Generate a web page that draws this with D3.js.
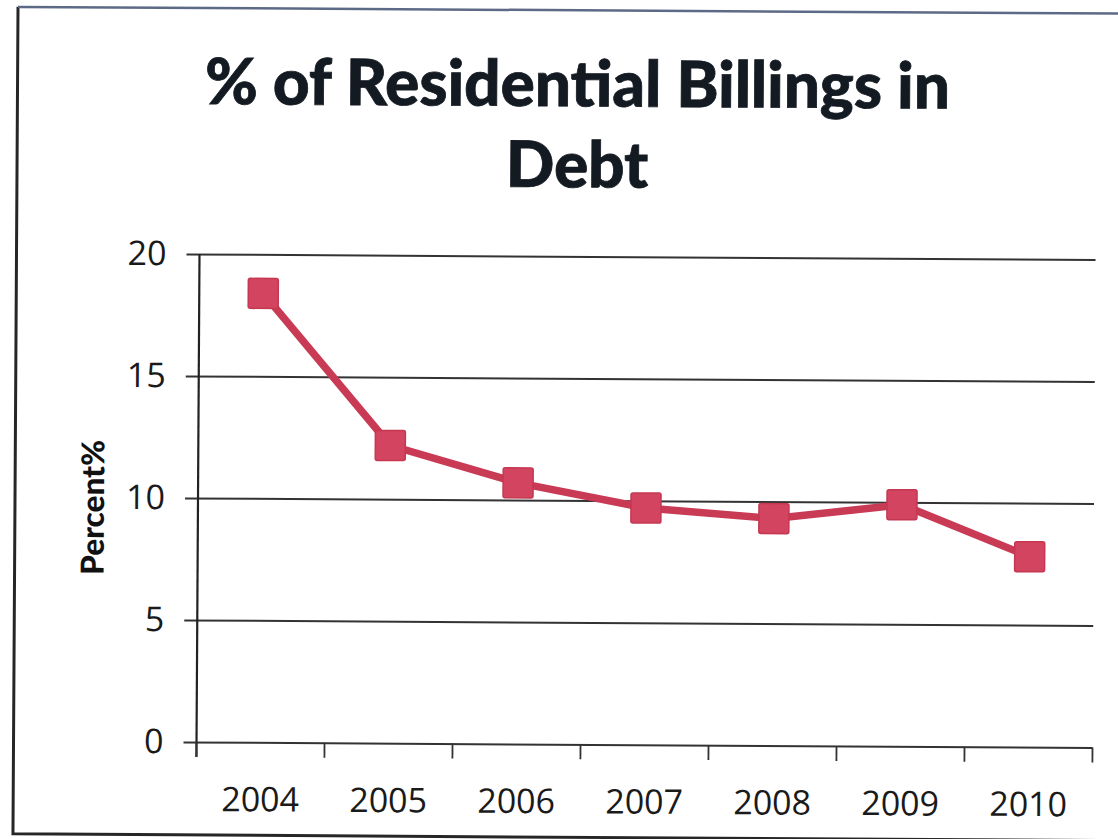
<!DOCTYPE html>
<html>
<head>
<meta charset="utf-8">
<script src="https://cdn.jsdelivr.net/npm/d3@7"></script>
<style>
  html, body { margin: 0; padding: 0; background: #fff; overflow: hidden; }
  svg { display: block; }
</style>
</head>
<body>
<svg id="chart" width="1118" height="839"></svg>
<script>
// Share of residential billings in debt, by year
const years = ["2004", "2005", "2006", "2007", "2008", "2009", "2010"];
const percentInDebt = [18.4, 12.2, 10.7, 9.7, 9.3, 9.9, 7.8];
const yTicks = [0, 5, 10, 15, 20];
const titleLines = ["% of Residential Billings in", "Debt"];
const yAxisLabel = "Percent%";

const W = 1118, H = 839;
const plot = { left: 198, right: 1094, top: 254, bottom: 742 };

const svg = d3.select("#chart");
svg.append("rect").attr("width", W).attr("height", H).attr("fill", "#fff");

// the whole sheet sits very slightly askew
const g = svg.append("g").attr("transform", "rotate(0.35, 200, 500)");

// frame
g.append("path")
  .attr("d", `M15,8 L15,835 L1130,835`)
  .attr("fill", "none").attr("stroke", "#262626").attr("stroke-width", 3);
g.append("path")
  .attr("d", `M15,8 L1130,8`)
  .attr("fill", "none").attr("stroke", "#5d6a86").attr("stroke-width", 2.5);

const x = d3.scaleBand().domain(years).range([plot.left, plot.right]).padding(0);
const y = d3.scaleLinear().domain([0, 20]).range([plot.bottom, plot.top]);

// horizontal gridlines with outward ticks
const yAxis = d3.axisLeft(y).tickValues(yTicks)
  .tickSize(-(plot.right - plot.left)).tickPadding(22).tickFormat(d3.format("d"));
const yG = g.append("g").attr("transform", `translate(${plot.left},0)`).call(yAxis);
yG.select(".domain").remove();
yG.selectAll(".tick line")
  .attr("x1", -13)
  .attr("stroke", "#333").attr("stroke-width", 2);
yG.selectAll(".tick text")
  .attr("font-family", "'Open Sans', sans-serif").attr("font-size", 34)
  .attr("fill", "#1a1a1a").attr("x", -33);

// vertical axis line
g.append("line")
  .attr("x1", plot.left).attr("x2", plot.left)
  .attr("y1", plot.top).attr("y2", plot.bottom + 15)
  .attr("stroke", "#222").attr("stroke-width", 2.2);

// category axis with boundary ticks
const xG = g.append("g").attr("transform", `translate(0,${plot.bottom})`)
  .call(d3.axisBottom(x).tickSize(0).tickPadding(0));
xG.select(".domain").remove();
xG.selectAll(".tick text")
  .attr("font-family", "'Open Sans', sans-serif").attr("font-size", 34)
  .attr("fill", "#1a1a1a").attr("dy", 0).attr("y", 69);
const bounds = years.map(d => x(d)).concat([x(years[years.length - 1]) + x.bandwidth()]);
g.append("g").selectAll("line").data(bounds).join("line")
  .attr("x1", d => d).attr("x2", d => d)
  .attr("y1", plot.bottom).attr("y2", plot.bottom + 15)
  .attr("stroke", "#333").attr("stroke-width", 1.8);

// title
const title = g.append("g");
titleLines.forEach((t, i) => {
  title.append("text")
    .attr("x", 575).attr("y", 104 + i * 81)
    .attr("text-anchor", "middle")
    .attr("font-family", "Lato, sans-serif").attr("font-weight", 900)
    .attr("font-size", 60).attr("fill", "#141a22")
    .attr("stroke", "#141a22").attr("stroke-width", 0.8)
    .text(t);
});
// fit first line to its width
{
  const t0 = title.select("text").node();
  const w = t0.getComputedTextLength();
  const fs = 60 * 745 / w;
  title.selectAll("text").attr("font-size", fs);
}

// axis title
const yl = g.append("text")
  .attr("transform", "translate(104,508) rotate(-90)")
  .attr("text-anchor", "middle")
  .attr("font-family", "Lato, sans-serif").attr("font-weight", 900)
  .attr("font-size", 30).attr("fill", "#111")
  .text(yAxisLabel);
{
  const w = yl.node().getComputedTextLength();
  yl.attr("font-size", 30 * 135 / w);
}

// series
const pts = years.map((d, i) => ({ year: d, v: percentInDebt[i] }));
const cx = d => x(d.year) + x.bandwidth() / 2;
g.append("path")
  .datum(pts)
  .attr("d", d3.line().x(cx).y(d => y(d.v)))
  .attr("fill", "none").attr("stroke", "#c93a55").attr("stroke-width", 7.5)
  .attr("stroke-linejoin", "round");

const S = 30;
g.append("g").selectAll("rect").data(pts).join("rect")
  .attr("x", d => cx(d) - S / 2).attr("y", d => y(d.v) - S / 2)
  .attr("width", S).attr("height", S).attr("rx", 2)
  .attr("fill", "#d2445f").attr("stroke", "#c63752").attr("stroke-width", 1.5);
</script>
</body>
</html>
